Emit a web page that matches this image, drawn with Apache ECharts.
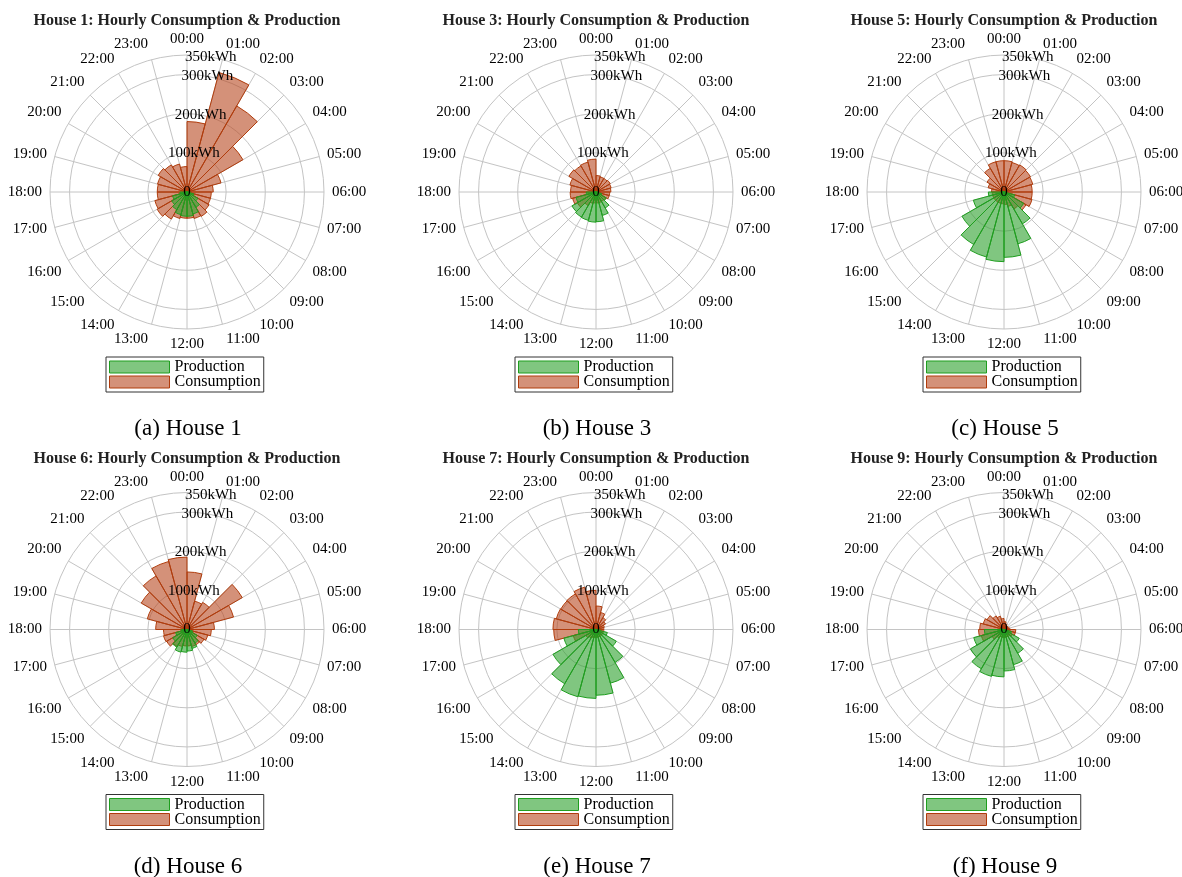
<!DOCTYPE html>
<html>
<head>
<meta charset="utf-8">
<script src="https://cdn.jsdelivr.net/npm/echarts@6/dist/echarts.min.js"></script>
<style>
  html, body { margin: 0; padding: 0; background: #fff; }
  #chart { width: 1182px; height: 877px; }
</style>
</head>
<body>
<div id="chart"></div>
<script>
// hour labels around the circle (bar for hour h spans h -> h+1)
const hours = ['00:00', '01:00', '02:00', '03:00', '04:00', '05:00', '06:00', '07:00',
  '08:00', '09:00', '10:00', '11:00', '12:00', '13:00', '14:00', '15:00',
  '16:00', '17:00', '18:00', '19:00', '20:00', '21:00', '22:00', '23:00']

const houseNames = ['House 1', 'House 3', 'House 5', 'House 6', 'House 7', 'House 9']
const captions = ['(a) House 1', '(b) House 3', '(c) House 5', '(d) House 6', '(e) House 7', '(f) House 9']

// radial axis (kWh)
const radialMax = 350
const radialStep = 100

// hourly consumption, kWh
const consHouse1 = [180, 316, 254, 165, 90, 67, 62, 62, 65, 72, 70, 67, 67, 70, 80, 88, 85, 76, 76, 78, 85, 80, 74, 65]
const consHouse3 = [42, 40, 40, 42, 40, 38, 35, 35, 30, 28, 28, 28, 28, 30, 40, 55, 62, 66, 65, 69, 80, 77, 79, 84]
const consHouse5 = [80, 78, 80, 78, 76, 72, 72, 74, 65, 50, 38, 32, 30, 30, 30, 30, 30, 30, 32, 42, 50, 70, 80, 80]
const consHouse6 = [147, 75, 80, 163, 123, 70, 62, 55, 50, 45, 45, 42, 42, 45, 50, 60, 62, 60, 80, 105, 135, 158, 180, 185]
const consHouse7 = [60, 45, 35, 28, 22, 20, 20, 20, 20, 20, 20, 20, 20, 22, 25, 30, 60, 108, 110, 105, 104, 105, 112, 100]
const consHouse9 = [20, 15, 12, 12, 12, 15, 30, 30, 25, 20, 20, 20, 20, 20, 25, 35, 60, 65, 62, 55, 50, 40, 35, 28]

// hourly production, kWh
const prodHouse1 = [0, 0, 0, 0, 0, 0, 8, 18, 32, 45, 58, 62, 62, 60, 52, 45, 38, 18, 3, 0, 0, 0, 0, 0]
const prodHouse3 = [0, 0, 0, 0, 0, 0, 5, 15, 30, 47, 62, 76, 77, 75, 74, 71, 53, 25, 5, 0, 0, 0, 0, 0]
const prodHouse5 = [0, 0, 0, 0, 0, 0, 8, 28, 58, 94, 137, 167, 178, 172, 155, 124, 81, 40, 5, 0, 0, 0, 0, 0]
const prodHouse6 = [0, 0, 0, 0, 0, 0, 5, 15, 30, 40, 50, 55, 58, 60, 52, 42, 30, 15, 3, 0, 0, 0, 0, 0]
const prodHouse7 = [0, 0, 0, 0, 0, 0, 10, 30, 60, 97, 142, 168, 176, 178, 160, 127, 85, 45, 8, 0, 0, 0, 0, 0]
const prodHouse9 = [0, 0, 0, 0, 0, 0, 5, 20, 45, 70, 93, 106, 121, 124, 116, 99, 80, 50, 10, 0, 0, 0, 0, 0]

const consumption = [consHouse1, consHouse3, consHouse5, consHouse6, consHouse7, consHouse9]
const production = [prodHouse1, prodHouse3, prodHouse5, prodHouse6, prodHouse7, prodHouse9]

const SERIF = '"Liberation Serif", "Times New Roman", serif'
const gridColor = '#c4c4c4'
const prodFill = 'rgba(44, 160, 44, 0.6)'
const prodEdge = '#1f9e1f'
const consFill = 'rgba(184, 72, 32, 0.6)'
const consEdge = '#b03c0c'

const colX = [187, 596, 1004]
const rowY = [192, 629.5]
const R = 137

// labels just off the vertical sit beside their spoke, not centred on it
const labelPad = { '01:00': [0, 0, 0, 37], '11:00': [0, 0, 0, 37], '13:00': [0, 37, 0, 0], '23:00': [0, 37, 0, 0] }
const hourItems = hours.map((h) => (labelPad[h] ? { value: h, textStyle: { padding: labelPad[h] } } : h))

const polar = []
const angleAxis = []
const radiusAxis = []
const series = []
const legend = []
const graphic = []

houseNames.forEach((name, i) => {
  const cx = colX[i % 3]
  const cy = rowY[Math.floor(i / 3)]
  const dy = cy - rowY[0]
  const p = i * 3
  // three polars on the same spot: bars+grid, hour labels, kWh labels
  polar.push({ center: [cx, cy], radius: R }, { center: [cx, cy], radius: R }, { center: [cx, cy], radius: R })

  angleAxis.push(
    {
      polarIndex: p, type: 'category', data: hours, boundaryGap: true, startAngle: 90,
      axisLine: { show: false }, axisTick: { show: false }, axisLabel: { show: false },
      splitLine: { show: true, interval: 0, lineStyle: { color: gridColor, width: 1 } }
    },
    {
      polarIndex: p + 1, type: 'category', data: hourItems, boundaryGap: false, startAngle: 90,
      axisLine: { show: false }, axisTick: { show: false }, splitLine: { show: false },
      axisLabel: { interval: 0, margin: 8, fontSize: 15, fontFamily: SERIF, color: '#000' }
    },
    { polarIndex: p + 2, type: 'value', min: 0, max: 360, startAngle: 80, show: false }
  )

  radiusAxis.push(
    {
      polarIndex: p, type: 'value', min: 0, max: radialMax, interval: radialStep,
      axisLine: { show: false }, axisTick: { show: false }, axisLabel: { show: false },
      splitLine: { show: true, lineStyle: { color: gridColor, width: 1 } }
    },
    { polarIndex: p + 1, type: 'value', show: false },
    {
      polarIndex: p + 2, type: 'value', min: 0, max: radialMax, interval: radialStep, z: 10,
      axisLine: { show: false }, axisTick: { show: false }, splitLine: { show: false },
      axisLabel: {
        margin: 0, align: 'center', verticalAlign: 'middle',
        fontSize: 15, fontFamily: SERIF, color: '#000',
        formatter: (v) => (v === 0 ? '0' : v + 'kWh')
      }
    }
  )

  series.push(
    {
      type: 'bar', name: 'Consumption', coordinateSystem: 'polar', polarIndex: p,
      data: consumption[i], barCategoryGap: '0%', barGap: '-100%', z: 2,
      itemStyle: { color: consFill, borderColor: consEdge, borderWidth: 1 }
    },
    {
      type: 'bar', name: 'Production', coordinateSystem: 'polar', polarIndex: p,
      data: production[i], barCategoryGap: '0%', barGap: '-100%', z: 3,
      itemStyle: { color: prodFill, borderColor: prodEdge, borderWidth: 1 }
    }
  )

  legend.push({
    data: [
      { name: 'Production', itemStyle: { color: prodFill, borderColor: prodEdge, borderWidth: 1 } },
      { name: 'Consumption', itemStyle: { color: consFill, borderColor: consEdge, borderWidth: 1 } }
    ],
    orient: 'vertical', left: cx - 81, top: 357 + dy,
    icon: 'rect', itemWidth: 60, itemHeight: 12, itemGap: -1, padding: [2, 3, 2, 3],
    borderColor: '#333', borderWidth: 1, borderRadius: 0, backgroundColor: '#fff',
    selectedMode: false,
    textStyle: { fontSize: 16, fontFamily: SERIF, color: '#000' }
  })

  graphic.push(
    {
      type: 'text', x: cx, y: 21 + dy,
      style: { text: name + ': Hourly Consumption & Production', font: 'bold 16px ' + SERIF, fill: '#222', align: 'center', verticalAlign: 'middle' }
    },
    {
      type: 'text', x: cx + 1, y: 429 + dy,
      style: { text: captions[i], font: '23px ' + SERIF, fill: '#000', align: 'center', verticalAlign: 'middle' }
    }
  )
})

const myChart = echarts.init(document.getElementById('chart'))
myChart.setOption({
  animation: false,
  backgroundColor: '#fff',
  polar,
  angleAxis,
  radiusAxis,
  legend,
  graphic,
  series
})
</script>
</body>
</html>
